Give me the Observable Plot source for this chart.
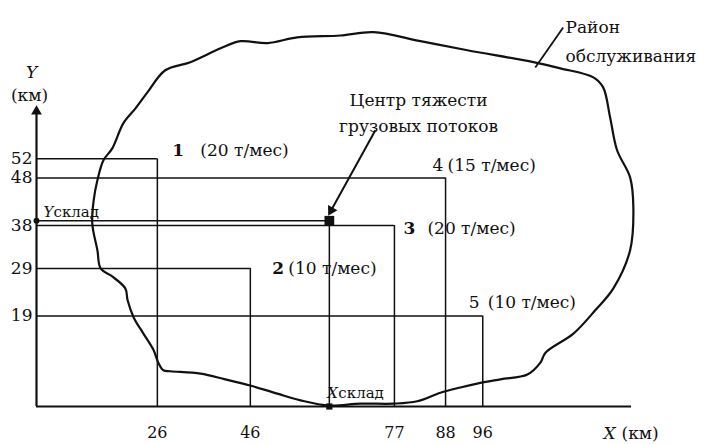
<!DOCTYPE html>
<html><head><meta charset="utf-8">
<script src="https://cdn.jsdelivr.net/npm/d3@7"></script>
<script src="https://cdn.jsdelivr.net/npm/@observablehq/plot@0.6"></script>
<style>body{margin:0;background:#fff}</style>
</head><body><div id="chart"></div>
<script>
// Data
const pointIds = ["1", "2", "3", "4", "5"];
const pointX = [26, 46, 77, 88, 96];
const pointY = [52, 29, 38, 48, 19];
const pointLoad = ["(20 т/мес)", "(10 т/мес)", "(20 т/мес)", "(15 т/мес)", "(10 т/мес)"];
const centerX = 63;
const centerY = 39;
const xTicks = [26, 46, 77, 88, 96];
const yTicks = [19, 29, 38, 48, 52];
// service area outline (km)
const blobX = [63.0,56.8,51.8,46.0,40.6,35.3,28.8,27.3,26.2,25.2,23.0,20.9,19.6,19.1,16.3,13.8,13.1,12.0,12.3,13.1,14.4,16.3,18.7,21.3,23.9,27.7,33.1,39.6,43.9,49.7,56.1,65.4,72.5,82.6,92.7,106.9,112.7,119.8,121.9,123.4,124.9,127.7,128.4,127.7,124.1,120.2,115.5,109.5,108.4,105.6,99.8,94.8,91.2,86.9,81.9,76.8,69.7];
const blobY = [0.2,1.3,2.7,4.4,5.7,6.9,7.4,7.6,9.2,11.8,15.3,18.7,22.3,24.8,27.3,29.0,32.8,38.4,43.3,47.5,51.7,54.2,59.5,62.6,66.0,70.6,72.3,75.2,76.7,76.3,77.5,77.9,78.6,76.7,74.8,72.3,71.0,69.1,67.0,60.7,53.8,48.1,41.8,32.8,24.8,20.2,15.3,11.3,9.2,6.7,5.7,4.8,4.0,2.9,1.1,0.6,0.6];

const points = pointIds.map((id, i) => ({id, x: pointX[i], y: pointY[i], load: pointLoad[i]}));
const blob = blobX.map((x, i) => ({x, y: blobY[i]}));

const xMax = 128, yMax = 63.2;
const ink = "#111";
const numOff = [[15, -8], [22, 0], [9, 3], [-13, -12], [-14, -13]];
const loadDx = [43, 38, 33, 2, 5];
const bold = [true, true, true, false, false];

const labelMarks = points.flatMap((p, i) => [
  Plot.text([p], {x: "x", y: "y", text: "id", dx: numOff[i][0], dy: numOff[i][1], textAnchor: "start", fontWeight: bold[i] ? "bold" : "normal", fill: ink}),
  Plot.text([p], {x: "x", y: "y", text: "load", dx: loadDx[i], dy: numOff[i][1], textAnchor: "start", fill: ink})
]);

const chart = Plot.plot({
  width: 723, height: 444,
  marginLeft: 36, marginRight: 723 - 631, marginTop: 105, marginBottom: 38,
  style: {fontFamily: "'DejaVu Serif', serif", fontSize: "17px", color: ink, background: "#fff"},
  x: {domain: [0, xMax], label: null},
  y: {domain: [0, yMax], label: null},
  marks: [
    Plot.axisX({ticks: xTicks, tickSize: 0, tickPadding: 20, fontSize: 16, tickFormat: d => d, label: null}),
    Plot.axisY({ticks: yTicks, tickSize: 0, tickPadding: 4, tickFormat: d => d, label: null}),
    // service area
    Plot.line(blob, {x: "x", y: "y", curve: "catmull-rom-closed", stroke: ink, strokeWidth: 2.2}),
    // coordinate lines to each point
    Plot.ruleY(points, {y: "y", x1: 0, x2: "x", stroke: ink, strokeWidth: 1.5}),
    Plot.ruleX(points, {x: "x", y1: 0, y2: "y", stroke: ink, strokeWidth: 1.5}),
    // center of gravity lines
    Plot.ruleY([centerY], {x1: 0, x2: centerX, stroke: ink, strokeWidth: 1.5}),
    Plot.ruleX([centerX], {y1: 0, y2: centerY, stroke: ink, strokeWidth: 1.5}),
    // axes
    Plot.ruleY([0], {x1: 0, x2: xMax, stroke: ink, strokeWidth: 2.2}),
    Plot.ruleX([0], {y1: 0, y2: yMax - 1, stroke: ink, strokeWidth: 2.2}),
    Plot.dot([0], {x: 0, y: yMax, symbol: "triangle", r: 4, fill: ink, stroke: null, dy: 6}),
    // center markers
    Plot.dot([0], {x: centerX, y: centerY, symbol: "square", r: 5.5, fill: ink, stroke: null}),
    Plot.dot([0], {x: 0, y: centerY, r: 3, fill: ink, stroke: null}),
    Plot.dot([0], {x: centerX, y: 0, symbol: "square", r: 3.5, fill: ink, stroke: null}),
    // point labels
    ...labelMarks,
    // Yсклад / Xсклад labels
    Plot.text(["Y"], {x: 0, y: centerY, dx: 7, dy: -9, textAnchor: "start", fontStyle: "italic", fontSize: 15, fill: ink}),
    Plot.text(["склад"], {x: 0, y: centerY, dx: 17, dy: -9, textAnchor: "start", fontSize: 15, fill: ink}),
    Plot.text(["X"], {x: centerX, y: 0, dx: -2, dy: -13, textAnchor: "start", fontStyle: "italic", fontSize: 15, fill: ink}),
    Plot.text(["склад"], {x: centerX, y: 0, dx: 9, dy: -13, textAnchor: "start", fontSize: 15, fill: ink}),
    // axis titles
    Plot.text(["Y"], {x: 0, y: 70.2, dx: -5, textAnchor: "middle", fontStyle: "italic", fill: ink}),
    Plot.text(["(км)"], {x: 0, y: 65.3, dx: -7, textAnchor: "middle", fill: ink}),
    Plot.text(["X"], {x: 122, y: 0, dy: 27, textAnchor: "start", fontStyle: "italic", fill: ink}),
    Plot.text(["(км)"], {x: 122, y: 0, dx: 18, dy: 27, textAnchor: "start", fill: ink}),
    // center of gravity annotation
    Plot.text(["Центр тяжести\nгрузовых потоков"], {x: 82.2, y: 62.2, textAnchor: "middle", lineAnchor: "middle", lineHeight: 1.55, fill: ink}),
    Plot.link([0], {x1: 72.9, y1: 58.0, x2: 63.4, y2: 41.2, stroke: ink, strokeWidth: 2}),
    Plot.dot([0], {x: 63.4, y: 41.2, symbol: "triangle", r: 4, rotate: 209, fill: ink, stroke: null}),
    // service area annotation
    Plot.link([0], {x1: 107.3, y1: 71.2, x2: 113.3, y2: 79.6, stroke: ink, strokeWidth: 1.8}),
    Plot.text(["Район\nобслуживания"], {x: 113.8, y: 77.4, textAnchor: "start", lineAnchor: "middle", lineHeight: 1.7, fill: ink})
  ]
});
document.getElementById("chart").appendChild(chart);
</script>
</body></html>
